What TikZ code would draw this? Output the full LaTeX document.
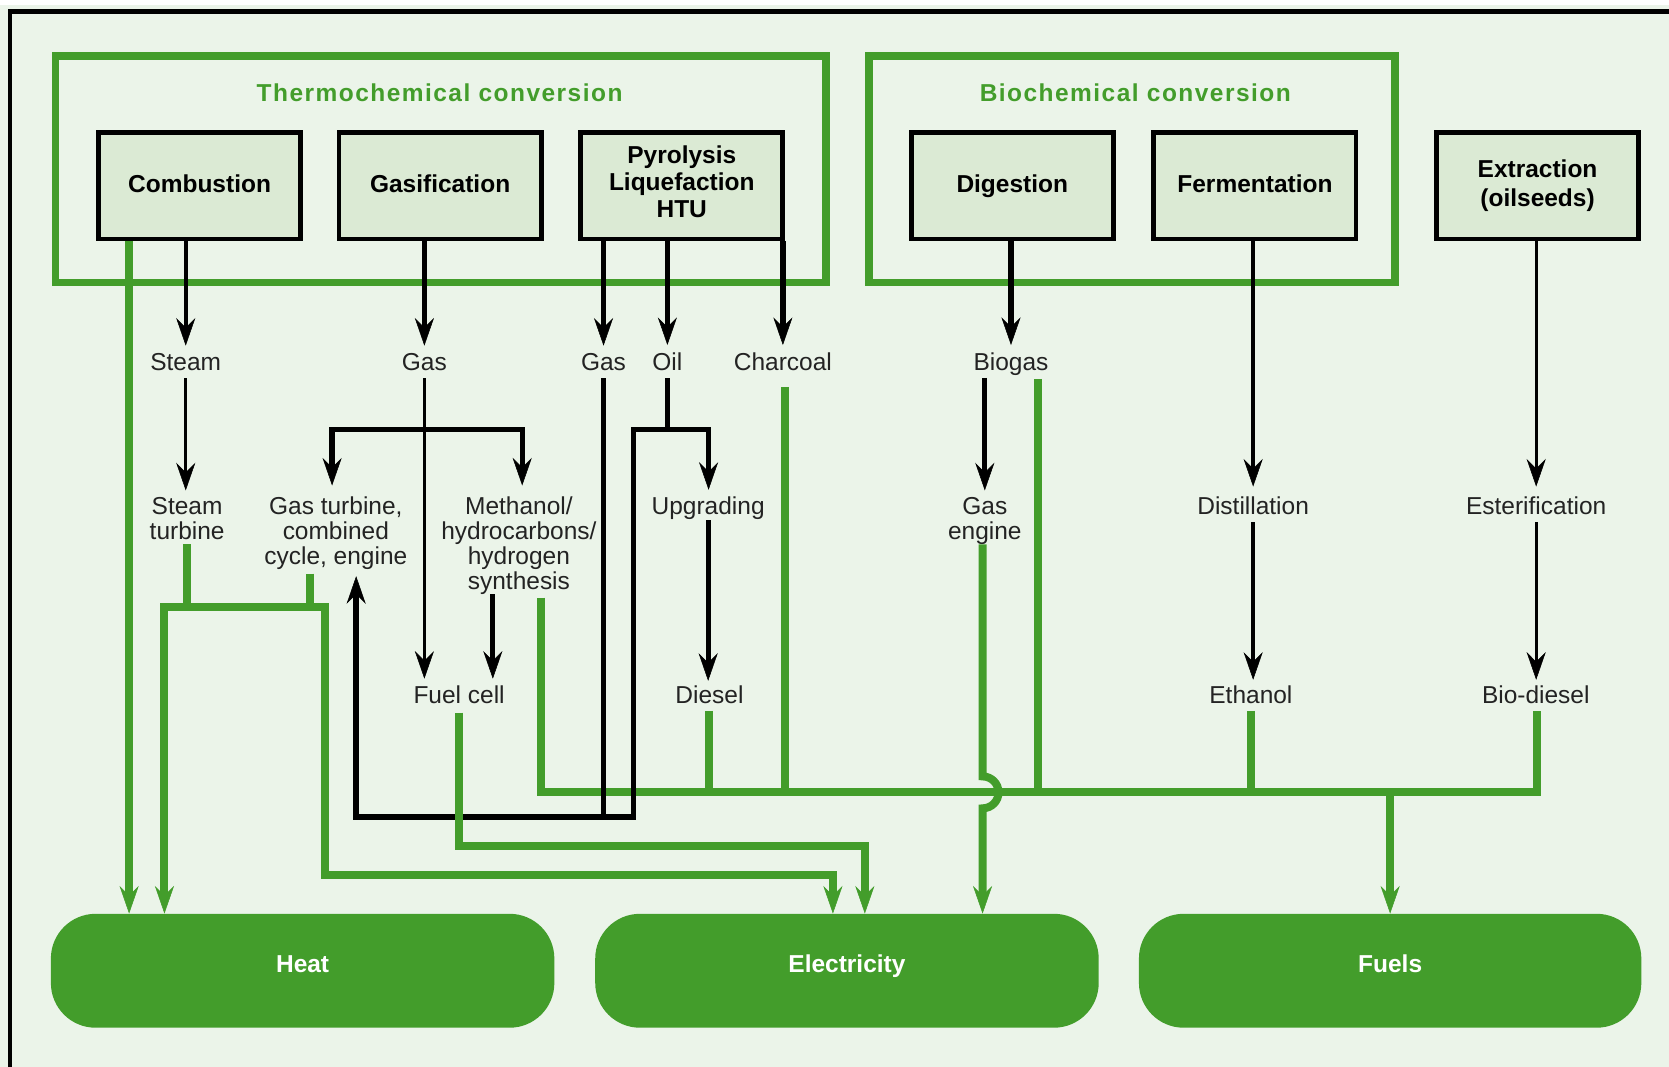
\documentclass[tikz,border=0pt]{standalone}
\usepackage{fontspec}
\setmainfont{Liberation Sans}
\usetikzlibrary{arrows.meta}
\definecolor{bgc}{RGB}{235,244,233}
\definecolor{boxc}{RGB}{219,234,212}
\definecolor{grn}{RGB}{67,157,43}
\definecolor{txt}{RGB}{35,35,35}
\begin{document}
\begin{tikzpicture}[x=1pt,y=-1pt,
  arrtip/.tip={Stealth[length=26pt,width=18pt,inset=9pt,line width=0.5pt]},
  proc/.style={draw=black, line width=4.5pt, fill=boxc, minimum width=190pt, minimum height=100pt,
    inner sep=0pt, align=center, font=\fontsize{23}{25.2}\selectfont\bfseries},
  procone/.style={proc, text height=16.5pt, text depth=4.5pt},
  lbl/.style={inner sep=0pt, align=center, text=txt, anchor=base, font=\fontsize{23}{23.5}\selectfont},
  pill/.style={fill=grn, rounded corners=42pt, minimum width=473pt, minimum height=107pt, inner sep=0pt,
    text=white, font=\fontsize{23}{25}\selectfont\bfseries, text height=16.5pt, text depth=12.5pt},
  grp/.style={draw=grn, line width=7pt, inner sep=0pt},
  ttl/.style={inner sep=0pt, anchor=base, text=grn, font=\fontsize{23}{25}\selectfont\bfseries\addfontfeature{LetterSpace=6}},
  bk/.style={draw=black, line width=5pt, -arrtip},
  bkm/.style={bk, line width=3.5pt},
  bkt/.style={bk, line width=2.5pt},
  gn/.style={draw=grn, line width=7.5pt},
  gna/.style={gn, -arrtip}]
\useasboundingbox (0,0) rectangle (1568,1002);
\fill[bgc] (0,0) rectangle (1568,1002);
\fill[white] (0,0) rectangle (1568,5);
\draw[black, line width=3.8pt] (9.5,1002) -- (9.5,10.8) -- (1568,10.8);

% group frames
\node[grp, minimum width=724pt, minimum height=213pt] (therm) at (414,159) {};
\node[grp, minimum width=494pt, minimum height=213pt] (bio) at (1063.5,159) {};
\node[ttl] (thermT) at (413,95) {Thermochemical conversion};
\node[ttl] (bioT) at (1066.6,95) {Biochemical conversion};

% process boxes
\node[procone] (comb) at (187.5,174.5) {Combustion};
\node[procone] (gasif) at (413.5,174.5) {Gasification};
\node[proc, text depth=8pt] (pyro) at (640.5,174.5) {Pyrolysis\\Liquefaction\\HTU};
\node[procone] (dig) at (951,174.5) {Digestion};
\node[procone] (ferm) at (1179,174.5) {Fermentation};
\node[proc] (extr) at (1444.5,174.5) {Extraction\\[2.8pt](oilseeds)};

% intermediate labels (base = baseline of the last line)
\node[lbl] (steam) at (174.5,348) {Steam};
\node[lbl] (gasA) at (398.7,348) {Gas};
\node[lbl] (gasB) at (567,348) {Gas};
\node[lbl] (oil) at (627,348) {Oil};
\node[lbl] (charc) at (735.5,348) {Charcoal};
\node[lbl] (biogas) at (949.8,348) {Biogas};
\node[lbl] (sturb) at (175.8,506.5) {Steam\\turbine};
\node[lbl] (gturb) at (315.5,530) {Gas turbine,\\combined\\cycle, engine};
\node[lbl] (meth) at (487.5,553.5) {Methanol/\\hydrocarbons/\\hydrogen\\synthesis};
\node[lbl] (upg) at (665.3,483) {Upgrading};
\node[lbl] (gengine) at (925.2,506.5) {Gas\\engine};
\node[lbl] (dist) at (1177.3,483) {Distillation};
\node[lbl] (ester) at (1443.2,483) {Esterification};
\node[lbl] (fcell) at (431.3,660.5) {Fuel cell};
\node[lbl] (diesel) at (666.5,660.5) {Diesel};
\node[lbl] (ethanol) at (1175.2,660.5) {Ethanol};
\node[lbl] (biodiesel) at (1442.8,660.5) {Bio-diesel};

% outputs
\node[pill] (heat) at (284.3,912) {Heat};
\node[pill] (elec) at (795.7,912) {Electricity};
\node[pill, minimum width=472pt] (fuels) at (1306,912) {Fuels};

% junction coordinates
\coordinate (hj) at (154.5,570.3);
\coordinate (gj) at (305.5,570.3);
\coordinate (ej) at (305.5,821.8);
\coordinate (ejE) at (782.5,821.8);
\coordinate (fj) at (431.8,794.6);
\coordinate (fjE) at (812.5,794.6);
\coordinate (bL) at (508.2,744.4);
\coordinate (bR) at (1444,744.4);
\coordinate (hopT) at (923.1,729.4);
\coordinate (gbl) at (312,403.3);
\coordinate (gbr) at (490.6,403.3);
\coordinate (obL) at (595.3,403.3);
\coordinate (obR) at (665.7,403.3);
\coordinate (lpB) at (595.3,767.6);
\coordinate (lpL) at (334.6,767.6);
\coordinate (lpT) at (334.6,541.3);

% green flows
\draw[gna] ([xshift=-66.2pt]comb.south) -- ([xshift=-66.2pt]comb.south |- heat.north);
\draw[gn, arrtip-arrtip] (hj |- heat.north) -- (hj) -- (gj) -- (ej) -- (ejE) -- (ejE |- elec.north);
\draw[gn] ([yshift=-4.3pt]sturb.south) -- (sturb.south |- gj);
\draw[gn] ([xshift=-24.6pt,yshift=-4pt]gturb.south) -- ([xshift=-24.6pt]gturb.south |- gj);
\draw[gn, shorten <=3pt, shorten >=7pt] ([xshift=20.7pt]meth.south) -- ([xshift=20.7pt]meth.south |- bL) -- (bR) -- (bR |- biodiesel.south);
\draw[gn] ([yshift=-7pt]diesel.south) -- (diesel.south |- bL);
\draw[gn] ([xshift=2.2pt,yshift=-15pt]charc.south) -- ([xshift=2.2pt]charc.south |- bL);
\draw[gn] ([xshift=25.2pt,yshift=-3pt]biogas.south) -- ([xshift=25.2pt]biogas.south |- bL);
\draw[gn] ([yshift=-7pt]ethanol.south) -- (ethanol.south |- bL);
\draw[gna] (fuels.north |- bL) -- (fuels.north);
\draw[gna] (gengine.south -| hopT) -- (hopT) arc[start angle=-90, end angle=90, radius=15] -- (hopT |- elec.north);

% black flows
\draw[bkm, shorten >=7pt] (steam.north |- comb.south) -- (steam.north);
\draw[bkt, shorten <=7pt, shorten >=6pt] (steam.south) -- (steam.south |- sturb.north);
\draw[bk, shorten >=7pt] (gasA.north |- gasif.south) -- (gasA.north);
\draw[bkt, shorten <=7pt, shorten >=6pt] (gasA.south) -- (gasA.south |- fcell.north);
\draw[bk, arrtip-arrtip, shorten <=10pt, shorten >=10pt] (gbl |- gturb.north) -- (gbl) -- (gbr) -- (gbr |- meth.north);
\draw[bk, shorten >=6pt] ([xshift=-24.5pt]meth.south) -- ([xshift=-24.5pt]meth.south |- fcell.north);
\draw[bk, shorten >=7pt] (gasB.north |- pyro.south) -- (gasB.north);
\draw[bk, shorten >=7pt] (oil.north |- pyro.south) -- (oil.north);
\draw[bk, shorten >=7pt] (charc.north |- pyro.south) -- (charc.north);
\draw[bk, -, shorten <=7pt] (gasB.south) -- ([yshift=-2.5pt]gasB.south |- lpB);
\draw[bk, -, shorten <=7pt] (oil.south) -- ([yshift=-2.5pt]oil.south |- obL);
\draw[bk, arrtip-arrtip, shorten <=6pt] (obR |- upg.north) -- (obR) -- (obL) -- (lpB) -- (lpL) -- (lpT);
\draw[bk, shorten <=1pt, shorten >=4pt] (upg.south) -- (upg.south |- diesel.north);
\draw[bk, shorten >=7pt] (biogas.north |- dig.south) -- (biogas.north);
\draw[bk, shorten <=2pt, shorten >=6pt] (gengine.north |- biogas.south) -- (gengine.north);
\draw[bkm, shorten >=9pt] (dist.north |- ferm.south) -- (dist.north);
\draw[bkm, shorten <=7pt, shorten >=5pt] (dist.south) -- (dist.south |- ethanol.north);
\draw[bkt, shorten >=9pt] (ester.north |- extr.south) -- (ester.north);
\draw[bkt, shorten <=7pt, shorten >=5pt] (ester.south) -- (ester.south |- biodiesel.north);

% fuel cell to electricity (on top)
\draw[gna] ([yshift=-8.5pt]fcell.south) -- (fcell.south |- fj) -- (fjE) -- (fjE |- elec.north);
\end{tikzpicture}
\end{document}
